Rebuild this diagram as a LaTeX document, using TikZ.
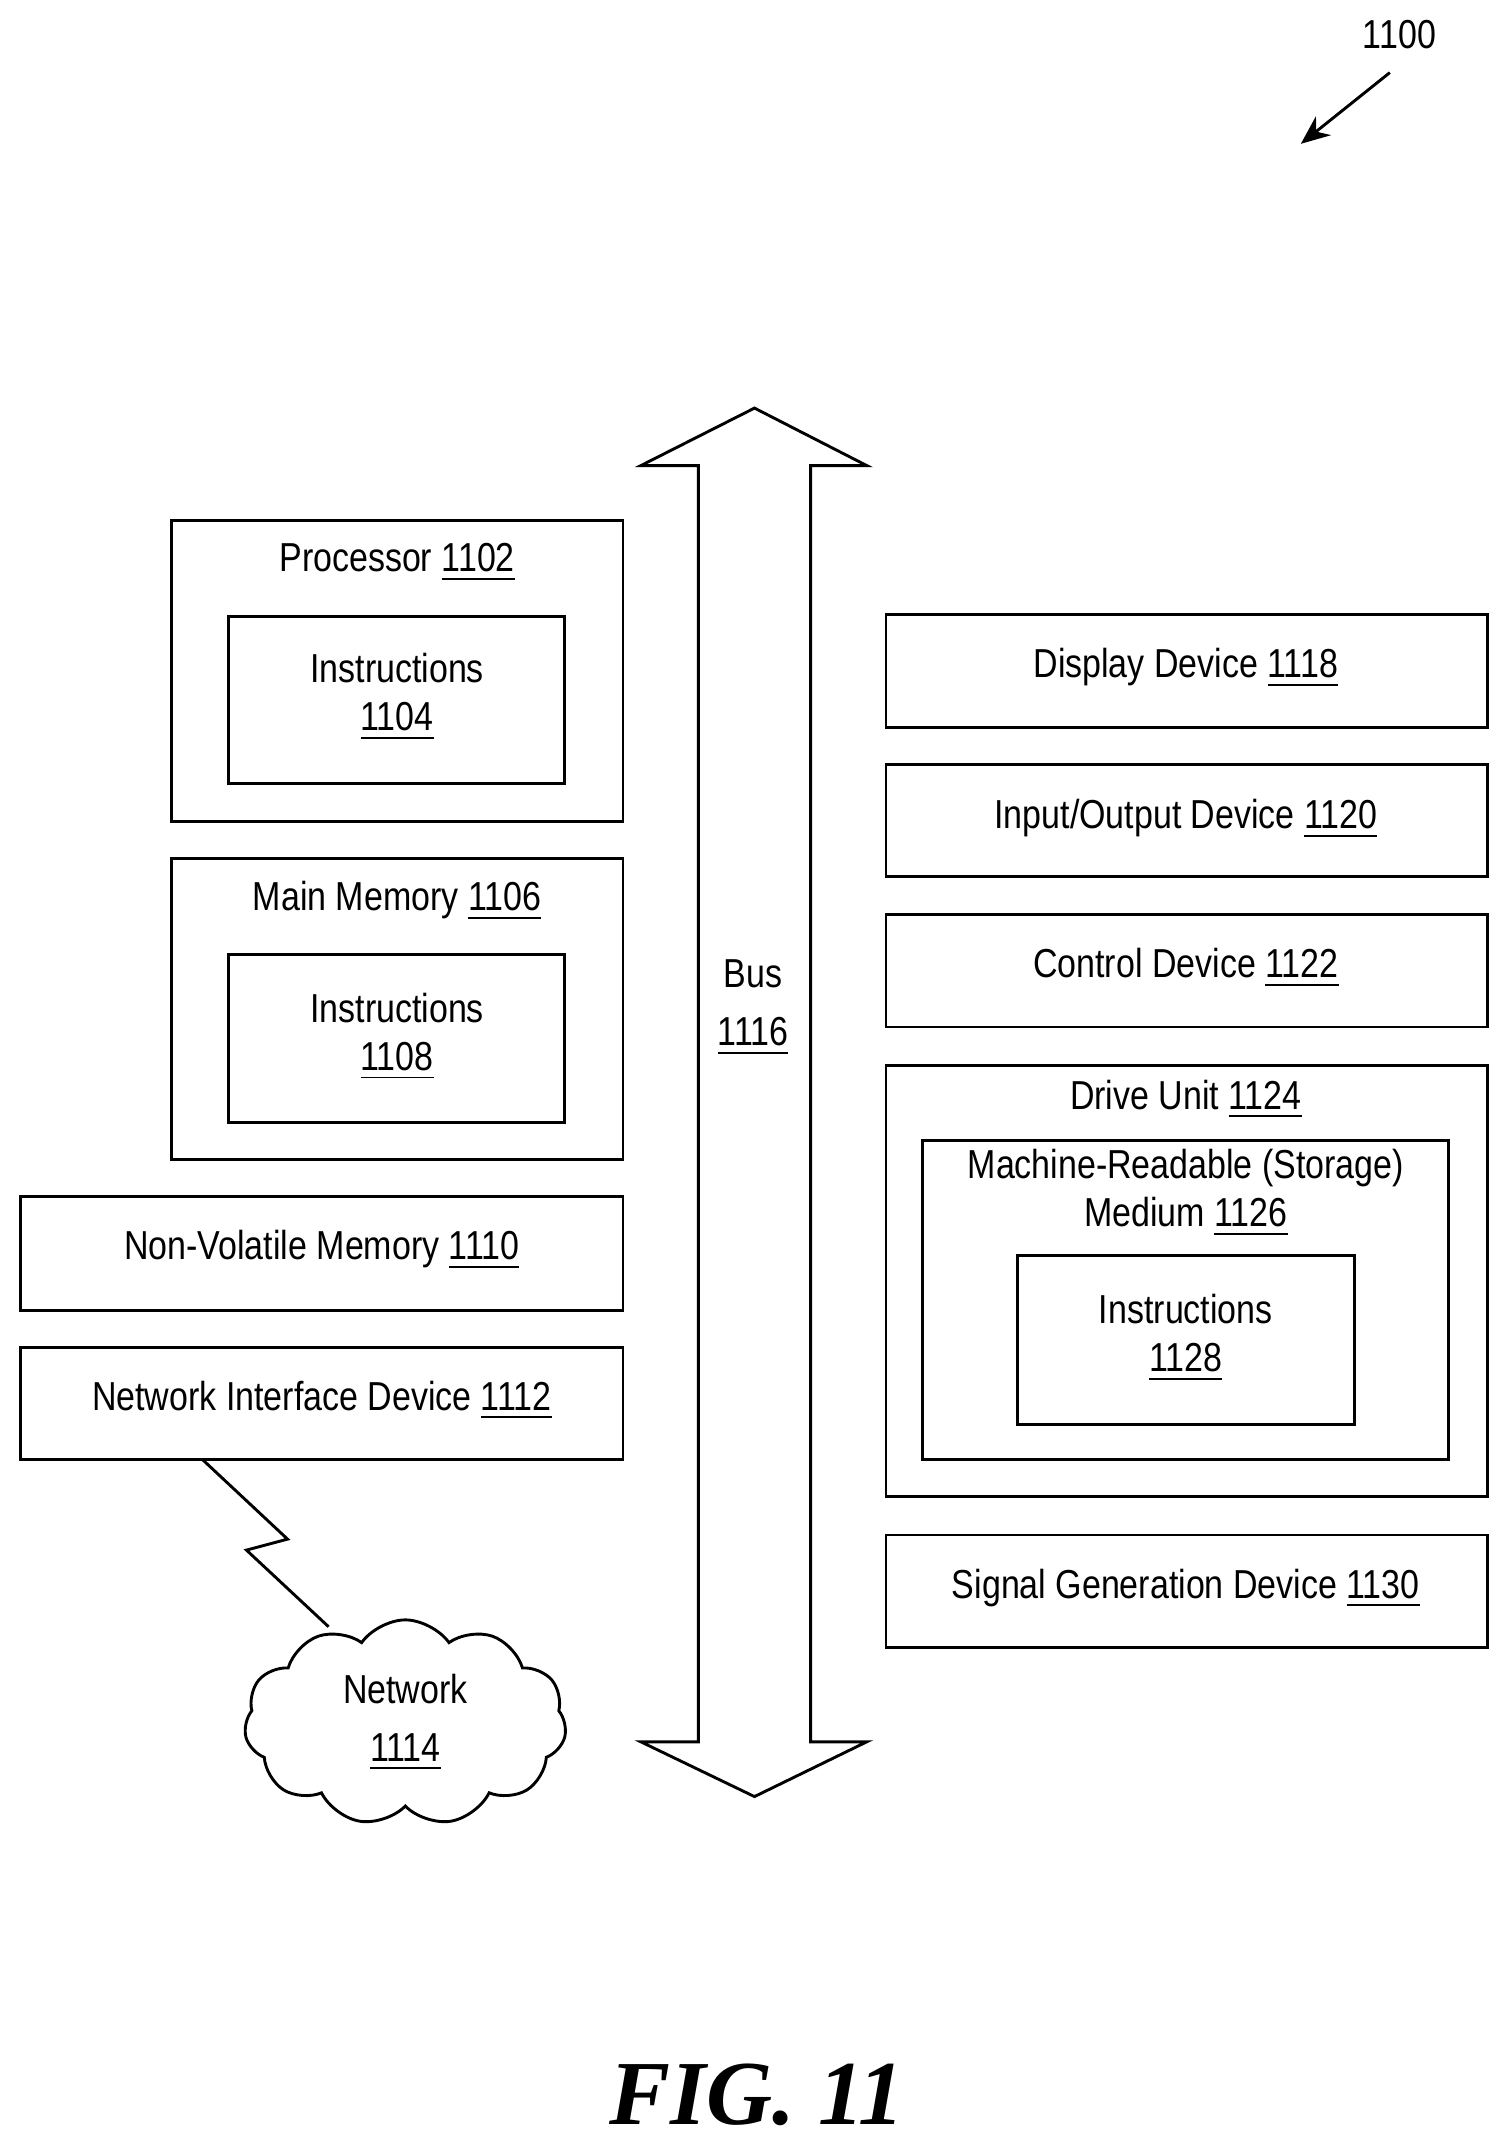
\documentclass[tikz,border=0pt]{standalone}
\usepackage{fontspec}
\setmainfont{Liberation Sans}[FakeStretch=0.84]
\newfontfamily\figfont{Liberation Serif}
\usetikzlibrary{shapes.symbols,arrows.meta}
\newcommand{\refn}[1]{\underline{#1}}
\begin{document}
\begin{tikzpicture}[x=0.01cm,y=-0.01cm,
  box/.style={draw,line width=0.6pt},
  lbl/.style={font=\fontsize{8.4}{10}\selectfont,align=center}]
  \useasboundingbox (0,0) rectangle (1100,1565);

  \node[lbl] (ref) at (1022,25) {1100};
  \coordinate (reftip) at (950,105);
  \draw[-{Stealth[length=6pt,width=5pt]},line width=0.6pt] (1015,53) -- (reftip);

  % left column
  \draw[box] (125,380) rectangle (455,600);
  \node[lbl] (proc) at (290,411) {Processor \refn{1102}};
  \draw[box] (167,450) rectangle (412,572);
  \node[lbl] (instA) at (290,509) {Instructions\\\refn{1104}};

  \draw[box] (125,627) rectangle (455,847);
  \node[lbl] (mem) at (290,658) {Main Memory \refn{1106}};
  \draw[box] (167,697) rectangle (412,820);
  \node[lbl] (instB) at (290,757) {Instructions\\\refn{1108}};

  \draw[box] (15,874) rectangle (455,957);
  \node[lbl] (nvm) at (235,913) {Non-Volatile Memory \refn{1110}};
  \draw[box] (15,984) rectangle (455,1066);
  \node[lbl] (nid) at (235,1023) {Network Interface Device \refn{1112}};

  \node[cloud,draw,line width=0.6pt,cloud puffs=11,cloud puff arc=110,aspect=1.5,
    inner sep=0pt,minimum width=2.35cm,minimum height=1.5cm] (net) at (296,1258) {};
  \node[lbl] (netlbl) at (296,1258) {Network\\[2pt]\refn{1114}};
  \draw[line width=0.6pt] (148,1066) -- (210,1124) -- (180,1132) -- (240,1188);

  % bus
  \draw[line width=0.6pt] (551,298) -- (633,340) -- (592,340) -- (592,1272) -- (633,1272)
    -- (551,1312) -- (468,1272) -- (510,1272) -- (510,340) -- (468,340) -- cycle;
  \node[lbl] (bus) at (550,736) {Bus\\[2pt]\refn{1116}};

  % right column
  \draw[box] (647,449) rectangle (1086,531);
  \node[lbl] (disp) at (866,488) {Display Device \refn{1118}};
  \draw[box] (647,558) rectangle (1086,640);
  \node[lbl] (io) at (866,598) {Input/Output Device \refn{1120}};
  \draw[box] (647,668) rectangle (1086,750);
  \node[lbl] (ctrl) at (866,707) {Control Device \refn{1122}};

  \draw[box] (647,778) rectangle (1086,1093);
  \node[lbl] (drive) at (866,803) {Drive Unit \refn{1124}};
  \draw[box] (674,833) rectangle (1058,1066);
  \node[lbl] (medium) at (866,871) {Machine-Readable (Storage)\\Medium \refn{1126}};
  \draw[box] (743,917) rectangle (989,1040);
  \node[lbl] (instC) at (866,977) {Instructions\\\refn{1128}};

  \draw[box] (647,1121) rectangle (1086,1203);
  \node[lbl] (sig) at (866,1160) {Signal Generation Device \refn{1130}};

  \node[font=\figfont\bfseries\itshape\fontsize{19}{22}\selectfont] (fig) at (553,1530) {FIG. 11};
\end{tikzpicture}
\end{document}
